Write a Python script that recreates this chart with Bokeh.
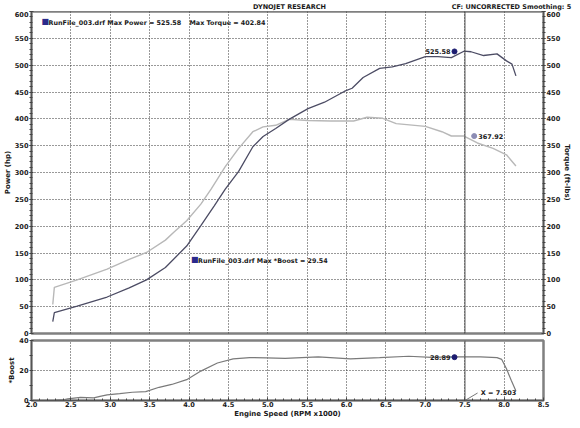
from bokeh.plotting import figure
from bokeh.models import Range1d, LinearAxis, Label, Span, FixedTicker, PrintfTickFormatter
from bokeh.layouts import column
from bokeh.embed import file_html
from bokeh.resources import INLINE

# ---- data ----
rpm_power = [2.27, 2.29, 2.58, 2.96, 3.24, 3.46, 3.70, 3.97, 4.15, 4.32, 4.46, 4.63, 4.81, 4.94, 5.10,
             5.27, 5.51, 5.72, 5.97, 6.07, 6.21, 6.42, 6.58, 6.75, 7.00, 7.16, 7.33, 7.49, 7.58, 7.74,
             7.91, 8.03, 8.10, 8.15]
power = [22, 39, 51, 68, 85, 100, 123, 163, 201, 238, 269, 302, 348, 367, 382,
         399, 419, 431, 451, 457, 477, 494, 497, 503, 516, 516, 514, 526, 525, 518,
         521, 508, 502, 480]

rpm_torque = [2.27, 2.29, 2.58, 2.96, 3.24, 3.46, 3.70, 3.81, 3.97, 4.15, 4.28, 4.46, 4.63, 4.81, 4.94,
              5.10, 5.27, 5.51, 5.80, 6.09, 6.26, 6.46, 6.63, 7.00, 7.21, 7.33, 7.49, 7.66, 7.86, 8.03, 8.15]
torque = [54, 86, 100, 120, 138, 151, 174, 189, 210, 241, 269, 311, 345, 376, 385,
          388, 399, 397, 396, 396, 403, 401, 391, 386, 376, 368, 368, 355, 345, 333, 312]

rpm_boost = [2.30, 2.42, 2.46, 2.62, 2.79, 2.87, 2.96, 3.12, 3.28, 3.45, 3.62, 3.78, 3.97, 4.15, 4.36,
             4.56, 4.77, 4.98, 5.22, 5.64, 6.05, 6.42, 6.79, 7.08, 7.37, 7.70, 7.91, 7.97, 8.03, 8.09, 8.15]
boost = [0.2, 0.6, 1.1, 2.1, 1.7, 2.7, 3.8, 4.6, 5.5, 5.9, 8.8, 10.7, 13.9, 19.6, 25.0,
         27.8, 28.6, 28.4, 28.1, 29.1, 27.8, 28.6, 29.5, 28.7, 29.1, 29.1, 28.6, 27.4, 21.1, 13.5, 6.3]

max_power_pt = (7.37, 525.58)
torque_cursor_pt = (7.62, 367.92)
boost_cursor_pt = (7.37, 28.89)
cursor_x = 7.503

x_ticks = [2.0, 2.5, 3.0, 3.5, 4.0, 4.5, 5.0, 5.5, 6.0, 6.5, 7.0, 7.5, 8.0, 8.5]
x_minor = [round(2.0 + 0.1 * i, 2) for i in range(66)]
y_ticks = list(range(0, 601, 50))
y_minor = list(range(0, 601, 10))
boost_ticks = [0, 20, 40]
boost_minor = [10, 30]

FONT = "DejaVu Sans"
TXT = "#1a1a1a"
W = 574
LB, RB = 22, 22


def style_axis(ax, size="6.6px"):
    ax.major_label_text_font = FONT
    ax.major_label_text_font_style = "bold"
    ax.major_label_text_font_size = size
    ax.major_label_text_color = TXT
    ax.axis_label_text_font = FONT
    ax.axis_label_text_font_style = "bold"
    ax.axis_label_text_font_size = "7px"
    ax.axis_label_text_color = TXT
    ax.axis_line_color = "#555555"
    ax.major_tick_line_color = "#444444"
    ax.minor_tick_line_color = "#444444"
    ax.major_tick_out = 2
    ax.major_tick_in = 2
    ax.minor_tick_out = 2
    ax.minor_tick_in = 1
    ax.major_label_standoff = 1
    ax.axis_label_standoff = 0


def lab(p, x, y, text, align="left", xo=0, yo=0, base="middle", size="6.5px"):
    p.add_layout(Label(x=x, y=y, text=text, text_align=align, text_baseline=base,
                       x_offset=xo, y_offset=yo, text_font=FONT,
                       text_font_style="bold", text_font_size=size, text_color=TXT))


# ---- header strip (not frame-aligned, spans the whole width) ----
hdr = figure(width=W, height=11, x_range=Range1d(0, W), y_range=Range1d(0, 11),
             output_backend="svg", toolbar_location=None, min_border=0)
hdr.frame_align = False
hdr.axis.visible = False
hdr.grid.visible = False
hdr.outline_line_color = None
lab(hdr, 289, 5.5, "DYNOJET RESEARCH", align="center")
lab(hdr, W - 1, 5.5, "CF: UNCORRECTED  Smoothing: 5", align="right")

# ---- main panel ----
p1 = figure(width=W, height=326, x_range=Range1d(2.0, 8.5), y_range=Range1d(0, 600),
            output_backend="svg", toolbar_location=None,
            min_border_left=LB, min_border_right=RB, min_border_top=0, min_border_bottom=4)
p1.outline_line_color = "#808080"
p1.outline_line_width = 2.5
p1.xaxis.visible = False
p1.xgrid.ticker = FixedTicker(ticks=x_ticks)

p1.yaxis.ticker = FixedTicker(ticks=y_ticks, minor_ticks=y_minor)
p1.yaxis.axis_label = "Power (hp)"
style_axis(p1.yaxis[0])

ax_r = LinearAxis(axis_label="Torque (ft-lbs)",
                  ticker=FixedTicker(ticks=y_ticks, minor_ticks=y_minor))
style_axis(ax_r)
p1.add_layout(ax_r, "right")

for g in (p1.xgrid[0], p1.ygrid[0]):
    g.grid_line_color = "#333333"
    g.grid_line_dash = "1 2"
    g.grid_line_width = 1

p1.line(rpm_torque, torque, line_color="#b8b8b8", line_width=1.4)
p1.line(rpm_power, power, line_color="#4c4c64", line_width=1.3)
p1.add_layout(Span(location=cursor_x, dimension="height", line_color="#505050", line_width=1))

p1.scatter([max_power_pt[0]], [max_power_pt[1]], size=5, marker="circle",
           fill_color="#1c1c70", line_color="#1c1c70")
p1.scatter([torque_cursor_pt[0]], [torque_cursor_pt[1]], size=5, marker="circle",
           fill_color="#8c8cb4", line_color="#8c8cb4")

lab(p1, max_power_pt[0], max_power_pt[1], "525.58", align="right", xo=-4)
lab(p1, torque_cursor_pt[0], torque_cursor_pt[1], "367.92", xo=4)

# legend boxes, placed by pixel offset from the frame's left edge
p1.add_layout(Label(x=2.0, y=578, x_offset=10, y_offset=-3, text="\u25a0", text_font=FONT,
                    text_font_size="8px", text_color="#2a2a8c"))
lab(p1, 2.0, 578, "RunFile_003.drf Max Power = 525.58", xo=17, size="6.4px")
lab(p1, 2.0, 578, "Max Torque = 402.84", xo=158, size="6.4px")
p1.add_layout(Label(x=4.0, y=136, x_offset=2, y_offset=-3, text="\u25a0", text_font=FONT,
                    text_font_size="8px", text_color="#2a2a8c"))
lab(p1, 4.0, 136, "RunFile_003.drf Max *Boost = 29.54", xo=9, size="6.4px")

# ---- boost panel ----
p2 = figure(width=W, height=83, x_range=p1.x_range, y_range=Range1d(0, 40),
            output_backend="svg", toolbar_location=None,
            min_border_left=LB, min_border_right=RB, min_border_top=3, min_border_bottom=0)
p2.outline_line_color = "#808080"
p2.outline_line_width = 2.5

p2.xaxis.ticker = FixedTicker(ticks=x_ticks, minor_ticks=x_minor)
p2.xaxis.formatter = PrintfTickFormatter(format="%.1f")
p2.xaxis.axis_label = "Engine Speed (RPM x1000)"
style_axis(p2.xaxis[0])
p2.xaxis.major_tick_out = 0
p2.xaxis.minor_tick_out = 0
p2.xaxis.major_tick_in = 3
p2.xaxis.minor_tick_in = 2

p2.yaxis.ticker = FixedTicker(ticks=boost_ticks, minor_ticks=boost_minor)
p2.yaxis.axis_label = "*Boost"
style_axis(p2.yaxis[0])

p2.xgrid[0].grid_line_color = "#333333"
p2.xgrid[0].grid_line_dash = "1 2"
p2.ygrid[0].ticker = FixedTicker(ticks=[20])
p2.ygrid[0].grid_line_color = "#333333"
p2.ygrid[0].grid_line_dash = "1 2"

p2.line(rpm_boost, boost, line_color="#7a7a7a", line_width=1.2)
p2.add_layout(Span(location=cursor_x, dimension="height", line_color="#505050", line_width=1))
p2.scatter([boost_cursor_pt[0]], [boost_cursor_pt[1]], size=5, marker="circle",
           fill_color="#1c1c70", line_color="#1c1c70")
lab(p2, boost_cursor_pt[0], boost_cursor_pt[1], "28.89", align="right", xo=-4)
p2.segment(x0=[cursor_x], y0=[0], x1=[cursor_x + 0.16], y1=[5], line_color="#777777", line_width=1)
lab(p2, cursor_x + 0.2, 5, "X = 7.503")

layout = column(hdr, p1, p2, spacing=0)
open("out.html", "w").write(file_html(layout, INLINE))
